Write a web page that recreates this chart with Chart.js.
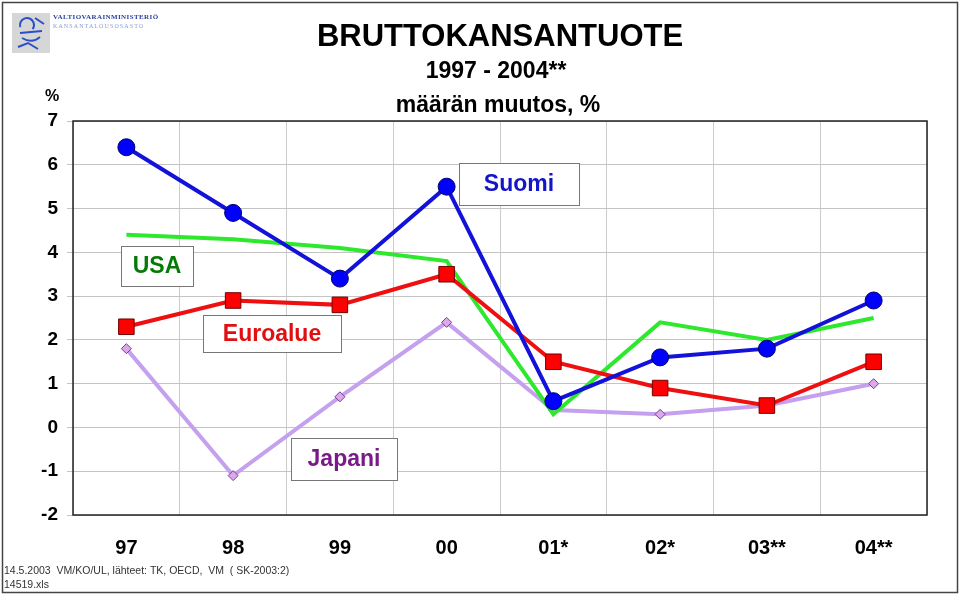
<!DOCTYPE html>
<html lang="fi">
<head>
<meta charset="UTF-8">
<title>Bruttokansantuote 1997 - 2004</title>
<script src="https://cdn.jsdelivr.net/npm/chart.js"></script>
<style>
  html, body { margin: 0; padding: 0; background: #fff; }
  #wrap { width: 960px; height: 595px; position: relative; }
</style>
</head>
<body>
<div id="wrap"><canvas id="bkt" width="960" height="595"></canvas></div>
<script>
  // vuodet ja muutos-%
  const vuodet = ['97', '98', '99', '00', '01*', '02*', '03**', '04**'];
  const suomi    = [6.4, 4.9, 3.4, 5.5, 0.6, 1.6, 1.8, 2.9];
  const euroalue = [2.3, 2.9, 2.8, 3.5, 1.5, 0.9, 0.5, 1.5];
  const usa      = [4.4, 4.3, 4.1, 3.8, 0.3, 2.4, 2.0, 2.5];
  const japani   = [1.8, -1.1, 0.7, 2.4, 0.4, 0.3, 0.5, 1.0];
  const yMin = -2, yMax = 7;

  const FONT = '"Liberation Sans", Arial, sans-serif';

  // otsikot, laatikot, kehys ym.
  const koristeet = {
    id: 'koristeet',
    beforeDatasetsDraw(chart) {
      const ctx = chart.ctx, a = chart.chartArea;
      ctx.save();
      ctx.strokeStyle = '#222';
      ctx.lineWidth = 1.5;
      ctx.strokeRect(a.left, a.top, a.right - a.left, a.bottom - a.top);
      ctx.restore();
    },
    afterDraw(chart) {
      const ctx = chart.ctx;
      ctx.save();
      // ulkokehys
      ctx.strokeStyle = '#444';
      ctx.lineWidth = 1.5;
      ctx.strokeRect(2.5, 2.5, 955, 590);

      // logo
      ctx.fillStyle = '#d6d6d6';
      ctx.fillRect(12, 13, 38, 40);
      ctx.strokeStyle = '#2a4fc8';
      ctx.lineWidth = 2;
      ctx.beginPath();
      ctx.arc(27, 25, 7, Math.PI * 0.9, Math.PI * 2.2);
      ctx.moveTo(20, 33); ctx.lineTo(42, 31);
      ctx.moveTo(22, 38); ctx.quadraticCurveTo(32, 44, 40, 37);
      ctx.moveTo(18, 47); ctx.lineTo(28, 43); ctx.lineTo(38, 49);
      ctx.moveTo(35, 18); ctx.lineTo(44, 24);
      ctx.stroke();
      ctx.font = 'bold 7px "Liberation Serif", serif';
      ctx.letterSpacing = '0.4px';
      ctx.textBaseline = 'middle';
      ctx.textAlign = 'left';
      ctx.fillStyle = '#2a3f9a';
      ctx.fillText('VALTIOVARAINMINISTERIÖ', 53, 17);
      ctx.fillStyle = '#8c9ad0';
      ctx.font = '6px "Liberation Serif", serif';
      ctx.letterSpacing = '1.1px';
      ctx.fillText('KANSANTALOUSOSASTO', 53, 26);
      ctx.letterSpacing = '0px';

      // otsikko
      ctx.fillStyle = '#000';
      ctx.textAlign = 'center';
      ctx.font = 'bold 31px ' + FONT;
      ctx.fillText('BRUTTOKANSANTUOTE', 500, 37);
      ctx.font = 'bold 23px ' + FONT;
      ctx.fillText('1997 - 2004**', 496, 72);
      ctx.fillText('määrän muutos, %', 498, 106);

      // %
      ctx.font = 'bold 16px ' + FONT;
      ctx.fillText('%', 52, 97);

      // sarjojen nimet laatikoissa
      const laatikko = (teksti, x, y, w, h, vari) => {
        ctx.fillStyle = '#fff';
        ctx.fillRect(x, y, w, h);
        ctx.strokeStyle = '#777';
        ctx.lineWidth = 1;
        ctx.strokeRect(x + 0.5, y + 0.5, w, h);
        ctx.fillStyle = vari;
        ctx.font = 'bold 23px ' + FONT;
        ctx.textAlign = 'center';
        ctx.fillText(teksti, x + w / 2, y + h / 2 + 1);
      };
      laatikko('Suomi', 459, 163, 120, 42, '#1414c8');
      laatikko('USA', 121, 246, 72, 40, '#067a06');
      laatikko('Euroalue', 203, 315, 138, 37, '#e01010');
      laatikko('Japani', 291, 438, 106, 42, '#7a1a8a');

      // alaviite
      ctx.fillStyle = '#333';
      ctx.font = '10.5px ' + FONT;
      ctx.textAlign = 'left';
      ctx.fillText('14.5.2003  VM/KO/UL, lähteet: TK, OECD,  VM  ( SK-2003:2)', 4, 571);
      ctx.fillText('14519.xls', 4, 585);
      ctx.restore();
    }
  };

  new Chart(document.getElementById('bkt'), {
    type: 'line',
    data: {
      labels: vuodet,
      datasets: [
        {
          label: 'Suomi', data: suomi,
          borderColor: '#1212d8', borderWidth: 4,
          pointStyle: 'circle', pointRadius: 8.5,
          pointBackgroundColor: '#0000ff', pointBorderColor: '#00006a', pointBorderWidth: 1
        },
        {
          label: 'Euroalue', data: euroalue,
          borderColor: '#ee1010', borderWidth: 4,
          pointStyle: 'rect', pointRadius: 11,
          pointBackgroundColor: '#ff0000', pointBorderColor: '#700000', pointBorderWidth: 1
        },
        {
          label: 'USA', data: usa,
          borderColor: '#2ee82e', borderWidth: 4,
          pointRadius: 0
        },
        {
          label: 'Japani', data: japani,
          borderColor: '#c4a0ee', borderWidth: 4,
          pointStyle: 'rectRot', pointRadius: 5,
          pointBackgroundColor: '#dca8ea', pointBorderColor: '#7a3c96', pointBorderWidth: 1
        }
      ]
    },
    options: {
      responsive: false,
      animation: false,
      events: [],
      layout: { padding: { top: 121, right: 33, left: 0, bottom: 0 } },
      plugins: { legend: { display: false }, tooltip: { enabled: false }, title: { display: false } },
      scales: {
        x: {
          offset: true,
          grid: { offset: true, color: '#cccccc', lineWidth: 1, drawTicks: false },
          border: { display: false },
          ticks: { color: '#000', padding: 21, font: { family: FONT, size: 20, weight: 'bold' } },
          afterFit(s) { s.height = 80; }
        },
        y: {
          min: yMin, max: yMax,
          grid: { color: '#c4c4c4', lineWidth: 1, tickLength: 6 },
          border: { display: false },
          ticks: { stepSize: 1, color: '#000', padding: 9, font: { family: FONT, size: 19, weight: 'bold' } },
          afterFit(s) { s.width = 73; }
        }
      }
    },
    plugins: [koristeet]
  });
</script>
</body>
</html>
